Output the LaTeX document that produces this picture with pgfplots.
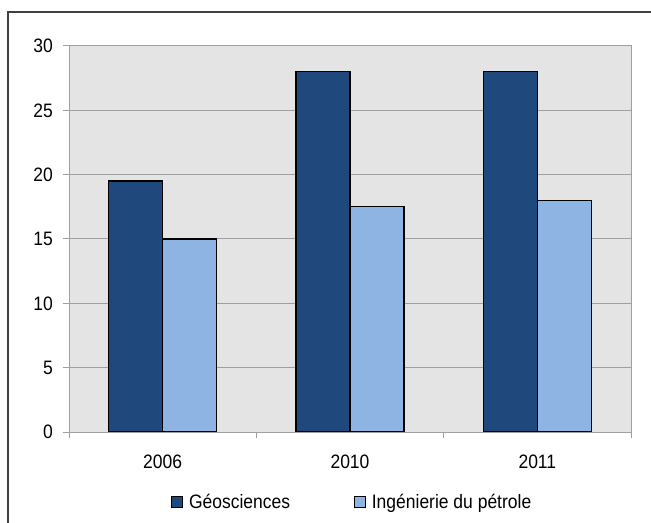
\documentclass[border=0pt]{standalone}
\usepackage{fontspec}
\setmainfont{Liberation Sans}[FakeStretch=0.9]
\usepackage{pgfplots}
\pgfplotsset{compat=1.18}
\definecolor{geo}{RGB}{31,73,125}
\definecolor{petro}{RGB}{141,180,226}
\definecolor{plotbg}{RGB}{228,228,228}
\definecolor{gridc}{RGB}{160,160,160}
\definecolor{framec}{RGB}{64,64,64}
\begin{document}
\begin{tikzpicture}
\useasboundingbox (0,0) rectangle (651bp,523bp);
% outer chart frame
\draw[line width=1.5bp, framec] (8bp,0) -- (8bp,511bp) -- (651bp,511bp);
\begin{axis}[
  at={(69bp,91bp)}, anchor=south west,
  scale only axis, width=562bp, height=386bp,
  xmin=-0.5, xmax=2.5, ymin=0, ymax=30,
  enlargelimits=false,
  ybar=0pt, bar width=54bp,
  axis background/.style={fill=plotbg},
  axis line style={gridc, line width=1bp},
  ymajorgrids, major grid style={gridc, line width=1bp},
  ytick={0,5,...,30},
  /pgf/number format/assume math mode=true,
  xtick={-0.5,0.5,1.5,2.5}, xticklabels={},
  extra x ticks={0,1,2},
  extra x tick labels={2006,2010,2011},
  extra x tick style={tick style={draw=none}},
  tick align=outside, tick pos=left,
  major tick length=6bp,
  tick style={gridc, line width=1bp},
  yticklabel style={font=\fontsize{19.5}{20}\selectfont, anchor=east, inner sep=0pt, xshift=-10bp},
  xticklabel style={font=\fontsize{19.5}{20}\selectfont, anchor=center, inner sep=0pt, yshift=-24bp},
  legend style={draw=none, fill=none, legend columns=2,
    at={(rel axis cs:0.1815,-0.1813)}, anchor=west, inner sep=0pt,
    nodes={inner sep=0pt},
    font=\fontsize{19.5}{20}\selectfont,
    /tikz/every odd column/.append style={column sep=6bp},
    /tikz/every even column/.append style={column sep=64bp}},
  legend image code/.code={\draw[#1, line width=0.8bp] (0bp,-5.5bp) rectangle (11bp,5.5bp);},
]
\addplot[draw=black, line width=1.2bp, fill=geo] coordinates {(0,19.5) (1,28) (2,28)};
\addplot[draw=black, line width=1.2bp, fill=petro] coordinates {(0,15) (1,17.5) (2,18)};
\legend{Géosciences, Ingénierie du pétrole}
\end{axis}
\end{tikzpicture}
\end{document}
